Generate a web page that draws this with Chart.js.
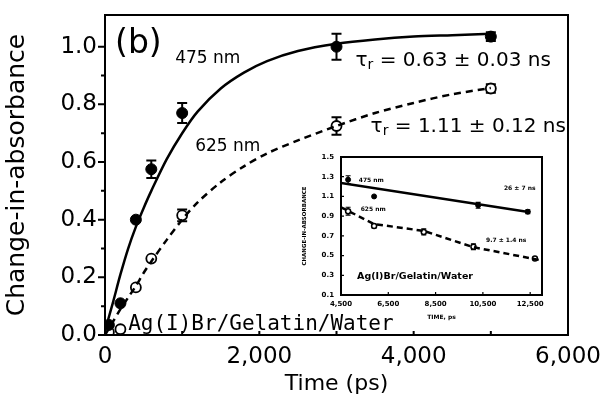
<!DOCTYPE html>
<html>
<head>
<meta charset="utf-8">
<script src="https://cdn.jsdelivr.net/npm/chart.js@4.4.1/dist/chart.umd.min.js"></script>
<style>
html, body { margin: 0; padding: 0; background: #fff; }
#wrap { position: relative; width: 603px; height: 398px; }
#mainChart { position: absolute; left: 0; top: 0; }
#insetChart { position: absolute; left: 290px; top: 150px; }
</style>
</head>
<body>
<div id="wrap">
<canvas id="mainChart" width="603" height="398"></canvas>
<canvas id="insetChart" width="262" height="175"></canvas>
</div>
<script>
// main panel: measured points (ps, change in absorbance)
const time475 = [50, 200, 400, 600, 1000, 3000, 5000];
const abs475 = [0.035, 0.11, 0.40, 0.575, 0.77, 1.00, 1.035];
const err475 = [0, 0, 0, 0.03, 0.035, 0.045, 0.015];
const time625 = [50, 200, 400, 600, 1000, 3000, 5000];
const abs625 = [0.01, 0.02, 0.165, 0.265, 0.415, 0.725, 0.855];
const err625 = [0, 0, 0, 0, 0.02, 0.03, 0.015];

// fitted curves
const fitTime = [0, 100, 200, 300, 400, 500, 600, 800, 1000, 1200, 1500, 1800, 2100, 2500, 3000, 3500, 4000, 4500, 5000];
const fit475 = [0.015, 0.11, 0.21, 0.30, 0.375, 0.44, 0.50, 0.61, 0.70, 0.775, 0.855, 0.91, 0.95, 0.985, 1.01, 1.025, 1.035, 1.04, 1.045];
const fit625 = [0.0, 0.045, 0.09, 0.13, 0.17, 0.215, 0.255, 0.33, 0.40, 0.46, 0.53, 0.585, 0.63, 0.675, 0.725, 0.77, 0.805, 0.835, 0.857];

const xTicks = [0, 2000, 4000, 6000];
const xMinor = [1000, 3000, 5000];
const yTicks = [0, 0.2, 0.4, 0.6, 0.8, 1.0];
const yMinor = [0.1, 0.3, 0.5, 0.7, 0.9];

// inset: longer times
const insetTime475 = [4800, 5900, 10300, 12400];
const insetAbs475 = [1.27, 1.10, 1.01, 0.945];
const insetErr475 = [0.04, 0, 0.03, 0.02];
const insetLineTime475 = [4500, 12500];
const insetLine475 = [1.237, 0.94];
const insetTime625 = [4800, 5900, 8000, 10100, 12700];
const insetAbs625 = [0.95, 0.80, 0.74, 0.59, 0.47];
const insetErr625 = [0.04, 0.02, 0.03, 0.03, 0];
const insetLineTime625 = [4500, 5900, 8000, 10100, 13000];
const insetLine625 = [0.99, 0.82, 0.75, 0.585, 0.45];

const insetXTicks = [4500, 6500, 8500, 10500, 12500];
const insetYTicks = [0.1, 0.3, 0.5, 0.7, 0.9, 1.1, 1.3, 1.5];

const pts = (xs, ys) => xs.map((x, i) => ({ x: x, y: ys[i] }));

// fixed axis box size, and no extra room for label overhang
const fixSize = (w, h) => s => {
    if (w) s.width = w;
    if (h) s.height = h;
    s.paddingTop = 0; s.paddingBottom = 0; s.paddingLeft = 0; s.paddingRight = 0;
};

// frame, ticks, error bars and text labels
function makeDecor(cfg) {
    return {
        id: 'decor',
        beforeDatasetsDraw(chart) {
            const ctx = chart.ctx, xs = chart.scales.x, ys = chart.scales.y;
            ctx.save();
            ctx.strokeStyle = '#000';
            ctx.lineWidth = cfg.errWidth;
            cfg.errors.forEach(e => {
                e.t.forEach((t, i) => {
                    const d = e.d[i];
                    if (!d) return;
                    const px = xs.getPixelForValue(t);
                    const y1 = ys.getPixelForValue(e.v[i] + d);
                    const y2 = ys.getPixelForValue(e.v[i] - d);
                    ctx.beginPath();
                    ctx.moveTo(px, y1); ctx.lineTo(px, y2);
                    ctx.moveTo(px - cfg.cap, y1); ctx.lineTo(px + cfg.cap, y1);
                    ctx.moveTo(px - cfg.cap, y2); ctx.lineTo(px + cfg.cap, y2);
                    ctx.stroke();
                });
            });
            ctx.restore();
        },
        afterDraw(chart) {
            const ctx = chart.ctx, a = chart.chartArea, xs = chart.scales.x, ys = chart.scales.y;
            ctx.save();
            ctx.strokeStyle = '#000';
            ctx.fillStyle = '#000';
            ctx.lineWidth = cfg.frameWidth;
            ctx.strokeRect(a.left, a.top, a.right - a.left, a.bottom - a.top);
            ctx.lineWidth = cfg.tickWidth;
            ctx.beginPath();
            cfg.yMajor.forEach(v => {
                const py = ys.getPixelForValue(v);
                ctx.moveTo(a.left, py); ctx.lineTo(a.left + cfg.yDir * cfg.major, py);
            });
            cfg.yMinor.forEach(v => {
                const py = ys.getPixelForValue(v);
                ctx.moveTo(a.left, py); ctx.lineTo(a.left + cfg.yDir * cfg.minor, py);
            });
            cfg.xMajor.forEach(v => {
                const px = xs.getPixelForValue(v);
                ctx.moveTo(px, a.bottom); ctx.lineTo(px, a.bottom - cfg.major);
            });
            cfg.xMinor.forEach(v => {
                const px = xs.getPixelForValue(v);
                ctx.moveTo(px, a.bottom); ctx.lineTo(px, a.bottom - cfg.minor);
            });
            ctx.stroke();
            ctx.textAlign = 'left';
            ctx.textBaseline = 'middle';
            cfg.labels.forEach(l => {
                let px = xs.getPixelForValue(l.t);
                const py = ys.getPixelForValue(l.v);
                ctx.font = l.font;
                if (l.sub) {
                    ctx.fillText(l.main, px, py);
                    px += ctx.measureText(l.main).width;
                    ctx.font = l.subFont;
                    ctx.fillText(l.sub, px, py + l.subShift);
                    px += ctx.measureText(l.sub).width;
                    ctx.font = l.font;
                }
                ctx.fillText(l.text, px, py);
            });
            ctx.restore();
        }
    };
}

const mainFont = "'DejaVu Sans', sans-serif";
const monoFont = "'DejaVu Sans Mono', monospace";

new Chart(document.getElementById('mainChart').getContext('2d'), {
    type: 'scatter',
    data: {
        datasets: [
            { data: pts(fitTime, fit475), showLine: true, pointRadius: 0, borderColor: '#000', borderWidth: 2.5, tension: 0.3 },
            { data: pts(fitTime, fit625), showLine: true, pointRadius: 0, borderColor: '#000', borderWidth: 2.5, borderDash: [7, 5], tension: 0.3 },
            { data: pts(time475, abs475), pointRadius: 5.5, pointBackgroundColor: '#000', pointBorderColor: '#000', borderWidth: 1 },
            { data: pts(time625, abs625), pointRadius: 5, pointBackgroundColor: '#fff', pointBorderColor: '#000', pointBorderWidth: 1.8 }
        ]
    },
    options: {
        responsive: false,
        animation: false,
        layout: { autoPadding: false, padding: { top: 15, right: 35, left: 0, bottom: 0 } },
        plugins: { legend: { display: false }, tooltip: { enabled: false } },
        scales: {
            x: {
                type: 'linear', min: 0, max: 6000,
                afterBuildTicks: s => { s.ticks = xTicks.map(v => ({ value: v })); },
                afterFit: fixSize(0, 63),
                grid: { display: true, drawOnChartArea: false, drawTicks: false },
                border: { display: false },
                ticks: { color: '#000', padding: 8, maxRotation: 0, font: { family: mainFont, size: 23 },
                    callback: v => v.toLocaleString('en-US') },
                title: { display: true, text: 'Time (ps)', color: '#000', font: { family: mainFont, size: 22 }, padding: { top: 0, bottom: 1 } }
            },
            y: {
                type: 'linear', min: 0, max: 1.11,
                afterBuildTicks: s => { s.ticks = yTicks.map(v => ({ value: v })); },
                afterFit: fixSize(105, 0),
                grid: { display: true, drawOnChartArea: false, drawTicks: false },
                border: { display: false },
                ticks: { color: '#000', padding: 8, font: { family: mainFont, size: 23 },
                    callback: v => v.toFixed(1) },
                title: { display: true, text: 'Change-in-absorbance', color: '#000', font: { family: mainFont, size: 25 }, padding: { top: 2, bottom: 0 } }
            }
        }
    },
    plugins: [makeDecor({
        frameWidth: 2, tickWidth: 2, errWidth: 2, cap: 5,
        major: 7, minor: 4, yDir: -1,
        yMajor: yTicks, yMinor: yMinor, xMajor: [], xMinor: xTicks.concat(xMinor).filter(v => v > 0 && v < 6000),
        errors: [
            { t: time475, v: abs475, d: err475 },
            { t: time625, v: abs625, d: err625 }
        ],
        labels: [
            { t: 130, v: 1.007, text: '(b)', font: '33px ' + mainFont },
            { t: 909, v: 0.958, text: '475 nm', font: '17px ' + mainFont },
            { t: 1169, v: 0.653, text: '625 nm', font: '17px ' + mainFont },
            { t: 3247, v: 0.952, sub: 'r', main: 'τ', subShift: 5, subFont: '14px ' + mainFont, text: ' = 0.63 ± 0.03 ns', font: '20px ' + mainFont },
            { t: 3442, v: 0.722, sub: 'r', main: 'τ', subShift: 5, subFont: '14px ' + mainFont, text: ' = 1.11 ± 0.12 ns', font: '20px ' + mainFont },
            { t: 300, v: 0.035, text: 'Ag(I)Br/Gelatin/Water', font: '21px ' + monoFont }
        ]
    })]
});

const insetFont = "'DejaVu Sans', sans-serif";

new Chart(document.getElementById('insetChart').getContext('2d'), {
    type: 'scatter',
    data: {
        datasets: [
            { data: pts(insetLineTime475, insetLine475), showLine: true, pointRadius: 0, borderColor: '#000', borderWidth: 2.5 },
            { data: pts(insetLineTime625, insetLine625), showLine: true, pointRadius: 0, borderColor: '#000', borderWidth: 2.5, borderDash: [6, 4] },
            { data: pts(insetTime475, insetAbs475), pointRadius: 2.5, pointBackgroundColor: '#000', pointBorderColor: '#000' },
            { data: pts(insetTime625, insetAbs625), pointRadius: 2.5, pointBackgroundColor: '#fff', pointBorderColor: '#000', pointBorderWidth: 1.5 }
        ]
    },
    options: {
        responsive: false,
        animation: false,
        layout: { autoPadding: false, padding: { top: 7, right: 10, left: 0, bottom: 0 } },
        plugins: { legend: { display: false }, tooltip: { enabled: false } },
        scales: {
            x: {
                type: 'linear', min: 4500, max: 13000,
                afterBuildTicks: s => { s.ticks = insetXTicks.map(v => ({ value: v })); },
                afterFit: fixSize(0, 30),
                grid: { display: true, drawOnChartArea: false, drawTicks: false },
                border: { display: false },
                ticks: { color: '#000', padding: 5, maxRotation: 0, font: { family: insetFont, size: 7, weight: 'bold' },
                    callback: v => v.toLocaleString('en-US') },
                title: { display: true, text: 'TIME, ps', color: '#000', font: { family: insetFont, size: 6, weight: 'bold' }, padding: { top: 0, bottom: 4 } }
            },
            y: {
                type: 'linear', min: 0.1, max: 1.5,
                afterBuildTicks: s => { s.ticks = insetYTicks.map(v => ({ value: v })); },
                afterFit: fixSize(51, 0),
                grid: { display: true, drawOnChartArea: false, drawTicks: false },
                border: { display: false },
                ticks: { color: '#000', padding: 7, font: { family: insetFont, size: 7, weight: 'bold' },
                    callback: v => v.toFixed(1) },
                title: { display: true, text: 'CHANGE-IN-ABSORBANCE', color: '#000', font: { family: insetFont, size: 5.5, weight: 'bold' }, padding: { top: 11, bottom: 0 } }
            }
        }
    },
    plugins: [makeDecor({
        frameWidth: 2, tickWidth: 1.2, errWidth: 1.2, cap: 2.5,
        major: 3, minor: 0, yDir: 1,
        yMajor: insetYTicks, yMinor: [], xMajor: insetXTicks, xMinor: [],
        errors: [
            { t: insetTime475, v: insetAbs475, d: insetErr475 },
            { t: insetTime625, v: insetAbs625, d: insetErr625 }
        ],
        labels: [
            { t: 5250, v: 1.266, text: '475 nm', font: 'bold 6px ' + insetFont },
            { t: 5330, v: 0.972, text: '625 nm', font: 'bold 6px ' + insetFont },
            { t: 11390, v: 1.185, text: '26 ± 7 ns', font: 'bold 6px ' + insetFont },
            { t: 10630, v: 0.658, text: '9.7 ± 1.4 ns', font: 'bold 6px ' + insetFont },
            { t: 5180, v: 0.283, text: 'Ag(I)Br/Gelatin/Water', font: 'bold 9.5px ' + insetFont }
        ]
    })]
});
</script>
</body>
</html>
